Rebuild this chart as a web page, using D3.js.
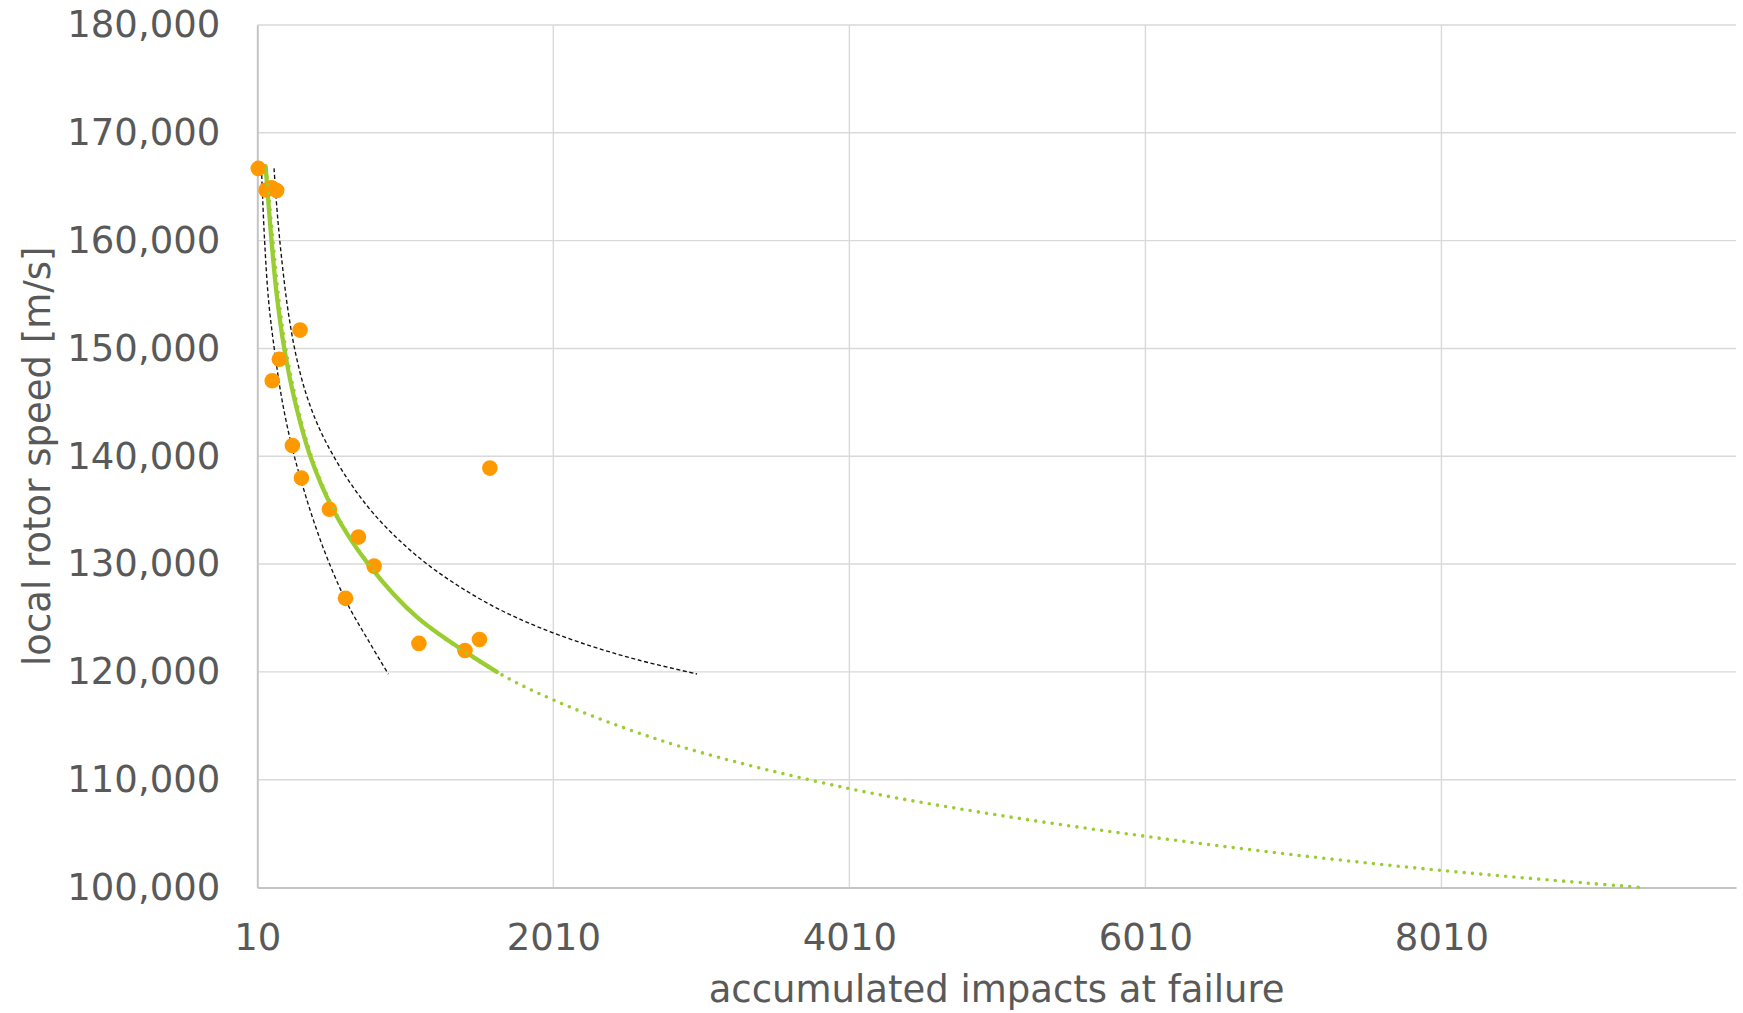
<!DOCTYPE html>
<html>
<head>
<meta charset="utf-8">
<script src="https://cdn.jsdelivr.net/npm/d3@7"></script>
<style>
  html, body { margin: 0; padding: 0; background: #ffffff; }
  svg { display: block; font-family: Verdana, "DejaVu Sans", sans-serif; }
</style>
</head>
<body>
<svg id="chart" width="1743" height="1013"></svg>
<script>
// Measured failures: accumulated impacts vs. local rotor speed
const impacts = [17, 69, 106, 141, 299, 159, 111, 247, 308, 497, 693, 799, 606, 1102, 1413, 1511, 1581];
const speeds  = [166700, 164700, 164900, 164650, 151700, 149000, 147000, 141000, 137980, 135080, 132500, 129810, 126820, 122640, 121980, 123000, 138900];

// Fitted curve over the tested range (solid)
const fitImpacts = [66, 106, 141, 192, 266, 368, 524, 760, 1095, 1628];
const fitSpeeds  = [166900, 160000, 155000, 150000, 145000, 140000, 135000, 130000, 125000, 120000];

// Power-law trend, extended forward (dotted)
const trendImpacts = [70, 116, 152, 202, 276, 376, 530, 762, 1095, 1628, 2010, 2500, 3000, 4010, 5000, 6010, 7000, 8010, 9000, 9360];
const trendSpeeds  = [166700, 160000, 155000, 150000, 145000, 140000, 135000, 130000, 125000, 120000, 117400, 114750, 112550, 109170, 106750, 104750, 103050, 101580, 100400, 100000];

// Lower and upper bounds (thin dashed)
const lowerImpacts = [40, 59, 86, 126, 177, 241, 315, 400, 501, 623, 758, 895];
const lowerSpeeds  = [166090, 160060, 154490, 149850, 145220, 141040, 137330, 133620, 129910, 126200, 122960, 119800];
const upperImpacts = [123, 146, 177, 217, 271, 342, 434, 548, 671, 798, 967, 1156, 1369, 1627, 1908, 2243, 2585, 2981];
const upperSpeeds  = [166700, 162380, 158020, 153570, 149390, 145680, 142430, 139470, 136870, 134640, 132230, 130010, 127970, 125920, 124160, 122490, 121100, 119800];

// Axis ticks
const xTicks = [10, 2010, 4010, 6010, 8010];
const yTicks = [100000, 110000, 120000, 130000, 140000, 150000, 160000, 170000, 180000];

const xTitle = "accumulated impacts at failure";
const yTitle = "local rotor speed [m/s]";

const svg = d3.select("#chart");
const plot = { left: 257.3, right: 1736, top: 25, bottom: 887.5 };

const x = d3.scaleLinear().domain([10, 10000]).range([plot.left, plot.right]);
const y = d3.scaleLinear().domain([100000, 180000]).range([plot.bottom, plot.top]);

const textColor = "#595959";
const fontSize = 37;

// Gridlines
svg.append("g")
  .selectAll("line")
  .data(yTicks.filter(d => d !== 100000))
  .join("line")
  .attr("x1", plot.left).attr("x2", plot.right)
  .attr("y1", d => y(d)).attr("y2", d => y(d))
  .attr("stroke", "#d9d9d9").attr("stroke-width", 1.4);

svg.append("g")
  .selectAll("line")
  .data(xTicks.filter(d => d !== 10))
  .join("line")
  .attr("x1", d => x(d)).attr("x2", d => x(d))
  .attr("y1", plot.top).attr("y2", plot.bottom)
  .attr("stroke", "#d9d9d9").attr("stroke-width", 1.4);

// Axes
const yAxis = d3.axisLeft(y).tickValues(yTicks).tickFormat(d3.format(","))
  .tickSizeInner(0).tickSizeOuter(0).tickPadding(37);
const gy = svg.append("g").attr("transform", `translate(${plot.left},0)`).call(yAxis);
gy.select(".domain").attr("stroke", "#c4c4c4").attr("stroke-width", 2);
gy.selectAll("text").attr("fill", textColor).attr("font-size", fontSize)
  .attr("font-family", 'Verdana, "DejaVu Sans", sans-serif');

const xAxis = d3.axisBottom(x).tickValues(xTicks).tickFormat(d3.format("d"))
  .tickSizeInner(0).tickSizeOuter(0).tickPadding(36);
const gx = svg.append("g").attr("transform", `translate(0,${plot.bottom})`).call(xAxis);
gx.select(".domain").attr("stroke", "#c4c4c4").attr("stroke-width", 2);
gx.selectAll("text").attr("fill", textColor).attr("font-size", fontSize)
  .attr("font-family", 'Verdana, "DejaVu Sans", sans-serif');

// Axis titles
svg.append("text")
  .attr("x", (plot.left + plot.right) / 2).attr("y", 1002)
  .attr("text-anchor", "middle").attr("fill", textColor).attr("font-size", fontSize)
  .text(xTitle);

svg.append("text")
  .attr("transform", `translate(50,${(plot.top + plot.bottom) / 2}) rotate(-90)`)
  .attr("text-anchor", "middle").attr("fill", textColor).attr("font-size", fontSize)
  .text(yTitle);

// Curves
const line = d3.line().x(d => x(d[0])).y(d => y(d[1])).curve(d3.curveCatmullRom.alpha(0.5));
const zip = (a, b) => a.map((v, i) => [v, b[i]]);

const curves = svg.append("g");
curves.append("path").datum(zip(lowerImpacts, lowerSpeeds))
  .attr("d", line).attr("fill", "none").attr("stroke", "#111")
  .attr("stroke-width", 1.35).attr("stroke-dasharray", "4 2.6");
curves.append("path").datum(zip(upperImpacts, upperSpeeds))
  .attr("d", line).attr("fill", "none").attr("stroke", "#111")
  .attr("stroke-width", 1.35).attr("stroke-dasharray", "4 2.6");

const green = "#9acd32";
curves.append("path").datum(zip(fitImpacts, fitSpeeds))
  .attr("d", line).attr("fill", "none").attr("stroke", green)
  .attr("stroke-width", 4.3).attr("stroke-linecap", "round");

// Data points
svg.append("g")
  .selectAll("circle")
  .data(zip(impacts, speeds))
  .join("circle")
  .attr("cx", d => x(d[0])).attr("cy", d => y(d[1]))
  .attr("r", 7.8).attr("fill", "#ff9900");

// Trend line drawn over the markers
svg.append("path").datum(zip(trendImpacts, trendSpeeds))
  .attr("d", line).attr("fill", "none").attr("stroke", green)
  .attr("stroke-width", 3.6).attr("stroke-linecap", "round")
  .attr("stroke-dasharray", "0 8.3");
</script>
</body>
</html>
